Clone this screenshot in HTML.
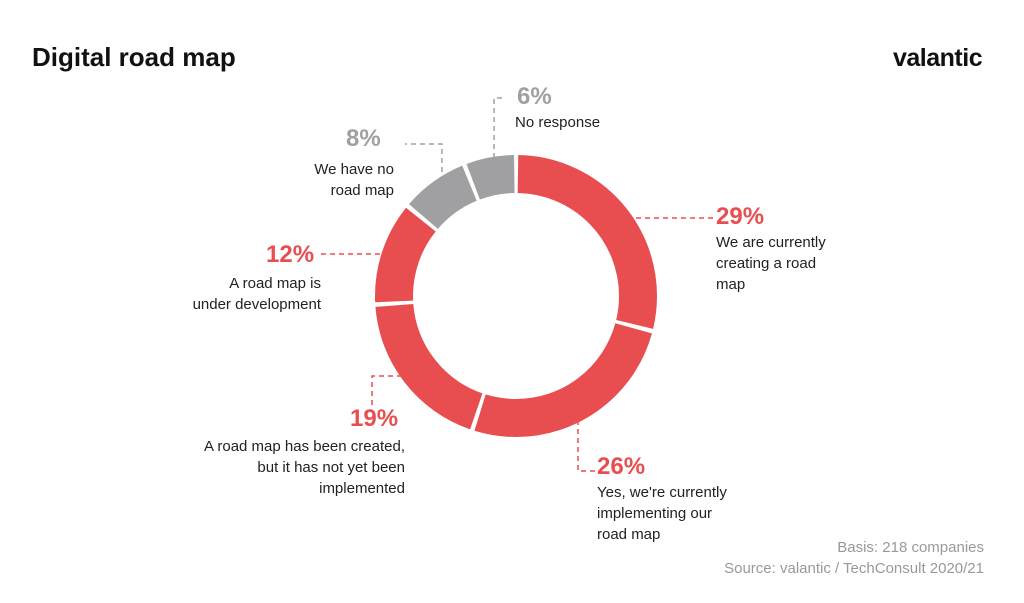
<!DOCTYPE html>
<html><head><meta charset="utf-8"><style>
body{margin:0;background:#fff;}
#c{position:relative;width:1024px;height:603px;overflow:hidden;font-family:"Liberation Sans",sans-serif;color:#222;}
.t{position:absolute;font-size:15px;line-height:21px;white-space:nowrap;}
.p{position:absolute;font-size:24px;font-weight:bold;line-height:26px;color:#e84e50;}
.g{color:#a0a0a2;}
.r{text-align:right;}
</style></head><body><div id="c">
<svg width="1024" height="603" style="position:absolute;left:0;top:0">
<g transform="rotate(-90 516 296)" fill="none" stroke-width="38">
<circle cx="516" cy="296" r="122" stroke="#e84e50" stroke-dasharray="218.3 548.2" stroke-dashoffset="-2"/>
<circle cx="516" cy="296" r="122" stroke="#e84e50" stroke-dasharray="195.3 571.2" stroke-dashoffset="-224.3"/>
<circle cx="516" cy="296" r="122" stroke="#e84e50" stroke-dasharray="141.6 624.9" stroke-dashoffset="-423.6"/>
<circle cx="516" cy="296" r="122" stroke="#e84e50" stroke-dasharray="88 678.5" stroke-dashoffset="-569.2"/>
<circle cx="516" cy="296" r="122" stroke="#a0a0a2" stroke-dasharray="57.3 709.2" stroke-dashoffset="-661.2"/>
<circle cx="516" cy="296" r="122" stroke="#a0a0a2" stroke-dasharray="42 724.5" stroke-dashoffset="-722.5"/>
</g>
<g fill="none" stroke-width="1.5" stroke-dasharray="5 4">
<path d="M636 218 H715" stroke="#e84e50"/>
<path d="M578 420 V471 H596" stroke="#e84e50"/>
<path d="M402 376 H372 V406" stroke="#e84e50"/>
<path d="M380 254 H320" stroke="#e84e50"/>
<path d="M442 172 V144 H405" stroke="#a0a0a2"/>
<path d="M494 158 V98 H506" stroke="#a0a0a2"/>
</g>
</svg>
<div style="position:absolute;left:32px;top:42px;font-size:26px;font-weight:bold;color:#111;">Digital road map</div>
<div style="position:absolute;left:893px;top:44px;font-size:25px;font-weight:bold;color:#111;letter-spacing:-0.5px">valantic</div>

<div class="p g" style="left:517px;top:84px">6%</div>
<div class="t" style="left:515px;top:112px">No response</div>

<div class="p g" style="left:346px;top:126px">8%</div>
<div class="t r" style="right:630px;top:159px">We have no<br>road map</div>

<div class="p" style="left:716px;top:204px">29%</div>
<div class="t" style="left:716px;top:232px">We are currently<br>creating a road<br>map</div>

<div class="p" style="left:266px;top:242px">12%</div>
<div class="t r" style="right:703px;top:273px">A road map is<br>under development</div>

<div class="p" style="left:350px;top:406px">19%</div>
<div class="t r" style="right:619px;top:436px">A road map has been created,<br>but it has not yet been<br>implemented</div>

<div class="p" style="left:597px;top:454px">26%</div>
<div class="t" style="left:597px;top:482px">Yes, we're currently<br>implementing our<br>road map</div>

<div class="t r" style="right:40px;top:537px;color:#999">Basis: 218 companies<br>Source: valantic / TechConsult 2020/21</div>
</div></body></html>
